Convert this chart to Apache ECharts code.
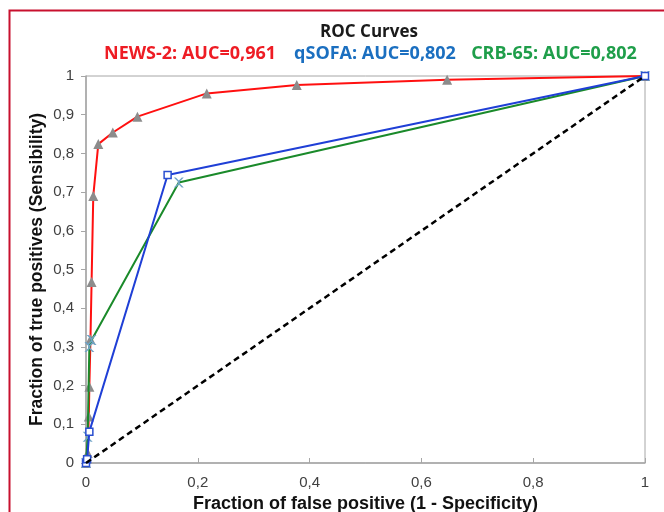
<!DOCTYPE html>
<html>
<head>
<meta charset="utf-8">
<script src="https://cdn.jsdelivr.net/npm/echarts@6/dist/echarts.min.js"></script>
<style>html,body{margin:0;padding:0;background:#fff;}#c{width:664px;height:512px;}</style>
</head>
<body>
<div id="c"></div>
<script>
// NEWS-2 ROC points [FPR, TPR]
var news2 = [[0,0],[0.003,0.026],[0.005,0.12],[0.006,0.197],[0.008,0.32],[0.01,0.468],[0.013,0.69],[0.022,0.824],[0.048,0.854],[0.092,0.895],[0.216,0.955],[0.377,0.977],[0.646,0.99],[1,1]];
// qSOFA ROC points
var qsofa = [[0,0],[0.002,0.01],[0.006,0.081],[0.146,0.744],[1,1]];
// CRB-65 ROC points
var crb65 = [[0,0],[0.003,0.068],[0.006,0.30],[0.01,0.318],[0.166,0.725],[1,1]];
// reference diagonal
var diag = [[0,0],[1,1]];
var xTicks = [0,0.2,0.4,0.6,0.8,1];
var yTicks = [0,0.1,0.2,0.3,0.4,0.5,0.6,0.7,0.8,0.9,1];
var chartTitle = 'ROC Curves';
var aucLabels = ['NEWS-2: AUC=0,961', 'qSOFA: AUC=0,802', 'CRB-65: AUC=0,802'];
function fmt(v){ return String(Math.round(v*10)/10).replace('.', ','); }

var xMark = 'path://M0,0 L2,0 L5,3 L8,0 L10,0 L6,4 L6,6 L10,10 L8,10 L5,7 L2,10 L0,10 L4,6 L4,4 Z';
var subStyle = function(c){ return {fontFamily: 'Open Sans', fontSize: 18, fontWeight: 'bold', color: c}; };
var chart = echarts.init(document.getElementById('c'));
chart.setOption({
  animation: false,
  backgroundColor: '#ffffff',
  textStyle: {fontFamily: 'Liberation Sans'},
  title: [{
    text: chartTitle, left: 364, top: 19, textAlign: 'center',
    textStyle: {fontFamily: 'Open Sans', fontSize: 17, fontWeight: 'bold', color: '#1a1a1a'}
  },{
    text: aucLabels[0], left: 185, top: 40, textAlign: 'center', textStyle: subStyle('#ee1c24')
  },{
    text: aucLabels[1], left: 370, top: 40, textAlign: 'center', textStyle: subStyle('#1b6fc0')
  },{
    text: aucLabels[2], left: 549, top: 40, textAlign: 'center', textStyle: subStyle('#1f9e4a')
  }],
  graphic: [{
    type: 'rect', left: 7, top: 8, z: -1,
    shape: {x: 0, y: 0, width: 720, height: 600},
    style: {fill: 'none', stroke: '#c8102e', lineWidth: 2}
  }],
  grid: {left: 86, right: 19, top: 76, bottom: 49, show: true, borderColor: '#a6a6a6', borderWidth: 1,
         containLabel: false, outerBoundsMode: 'none'},
  xAxis: {
    type: 'value', min: 0, max: 1, interval: 0.2,
    name: 'Fraction of false positive (1 - Specificity)', nameLocation: 'middle', nameGap: 32,
    nameMoveOverlap: false,
    nameTextStyle: {fontFamily: 'Liberation Sans', fontSize: 18, fontWeight: 'bold', color: '#111'},
    axisLine: {lineStyle: {color: '#a6a6a6', width: 1.5}},
    axisTick: {inside: true, length: 5, lineStyle: {color: '#a6a6a6'}},
    axisLabel: {formatter: fmt, color: '#404040', fontSize: 15, margin: 12},
    splitLine: {show: false}
  },
  yAxis: {
    type: 'value', min: 0, max: 1, interval: 0.1,
    name: 'Fraction of true positives (Sensibility)', nameLocation: 'middle', nameGap: 40,
    nameMoveOverlap: false,
    nameTextStyle: {fontFamily: 'Liberation Sans', fontSize: 17.5, fontWeight: 'bold', color: '#111'},
    axisLine: {show: true, lineStyle: {color: '#a6a6a6', width: 1.5}},
    axisTick: {show: true, length: 5, lineStyle: {color: '#a6a6a6'}},
    axisLabel: {formatter: fmt, color: '#404040', fontSize: 15, margin: 12},
    splitLine: {show: false}
  },
  series: [{
    type: 'line', data: diag, symbol: 'none',
    lineStyle: {color: '#000', width: 2.5, type: [6, 4]}, z: 5
  },{
    type: 'line', data: news2, symbol: 'triangle', symbolSize: 10,
    itemStyle: {color: '#8c8c8c'}, lineStyle: {color: '#ff1010', width: 2}, z: 2
  },{
    type: 'line', data: crb65, symbol: xMark, symbolSize: 10,
    itemStyle: {color: '#6fa3c6'}, lineStyle: {color: '#1a8a2a', width: 2}, z: 3
  },{
    type: 'line', data: qsofa, symbol: 'rect', symbolSize: 7,
    itemStyle: {color: '#ffffff', borderColor: '#2a4fd0', borderWidth: 1.5},
    lineStyle: {color: '#1f3fd6', width: 2}, z: 4
  }]
});
</script>
</body>
</html>
